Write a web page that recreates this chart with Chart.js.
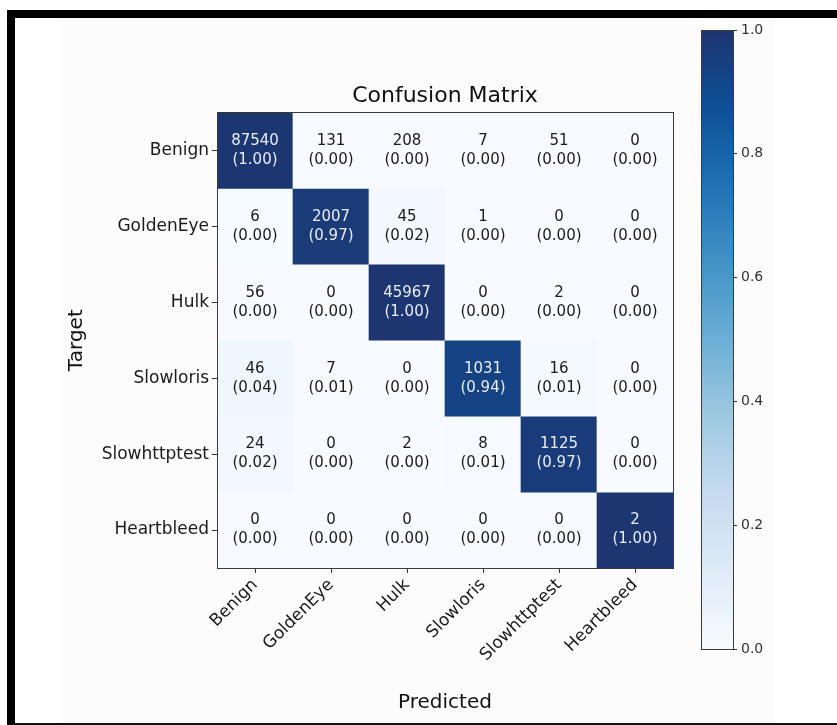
<!DOCTYPE html>
<html>
<head>
<meta charset="utf-8">
<script src="https://cdn.jsdelivr.net/npm/chart.js@4.4.1/dist/chart.umd.min.js"></script>
<style>
    body { margin: 0; width: 837px; height: 725px; overflow: hidden; background: #fff; position: relative; }
    .frame { position: absolute; left: 7px; top: 10px; width: 840px; height: 705px;
             border-top: 8px solid #000; border-left: 8px solid #000; border-bottom: 2px solid #111; }
    .paper { position: absolute; left: 60px; top: 18px; width: 715px; height: 705px; background: #fcfcfc; }
    canvas { position: absolute; top: 0; }
    #cm { left: 0; }
    #cbar { left: 690px; }
</style>
</head>
<body>
<div class="frame"></div>
<div class="paper"></div>
<canvas id="cm" width="837" height="725"></canvas>
<canvas id="cbar" width="110" height="725"></canvas>
<script>
// classes (predicted on x, target on y)
const classes = ['Benign', 'GoldenEye', 'Hulk', 'Slowloris', 'Slowhttptest', 'Heartbleed'];

// one row of counts per target class
const benignRow = [87540, 131, 208, 7, 51, 0];
const goldenEyeRow = [6, 2007, 45, 1, 0, 0];
const hulkRow = [56, 0, 45967, 0, 2, 0];
const slowlorisRow = [46, 7, 0, 1031, 16, 0];
const slowhttptestRow = [24, 0, 2, 8, 1125, 0];
const heartbleedRow = [0, 0, 0, 0, 0, 2];

const colorbarTicks = [0, 0.2, 0.4, 0.6, 0.8, 1.0];

const rows = [benignRow, goldenEyeRow, hulkRow, slowlorisRow, slowhttptestRow, heartbleedRow];
const normRows = rows.map(r => {
    const s = r.reduce((a, b) => a + b, 0);
    return r.map(v => s ? v / s : 0);
});

// matplotlib "Blues"
const blues = ['#f7fbff', '#deebf7', '#c6dbef', '#9ecae1', '#6baed6', '#4292c6', '#2171b5', '#0d4f96', '#1d3570'];

function hexToRgb(h) {
    return [parseInt(h.slice(1, 3), 16), parseInt(h.slice(3, 5), 16), parseInt(h.slice(5, 7), 16)];
}
function bluesColor(t) {
    t = Math.max(0, Math.min(1, t));
    const pos = t * (blues.length - 1);
    const i = Math.min(Math.floor(pos), blues.length - 2);
    const f = pos - i;
    const a = hexToRgb(blues[i]), b = hexToRgb(blues[i + 1]);
    const c = a.map((v, k) => Math.round(v + (b[k] - v) * f));
    return `rgb(${c[0]},${c[1]},${c[2]})`;
}

const FONT = "'DejaVu Sans', sans-serif";

const frameBox = {
    id: 'frameBox',
    afterDatasetsDraw(chart) {
        const { ctx, chartArea: a } = chart;
        ctx.save();
        ctx.strokeStyle = '#3a3a3a';
        ctx.lineWidth = 1;
        ctx.strokeRect(Math.round(a.left) + 0.5, Math.round(a.top) + 0.5,
            Math.round(a.right - a.left), Math.round(a.bottom - a.top));
        ctx.restore();
    }
};

const cellText = {
    id: 'cellText',
    afterDatasetsDraw(chart) {
        const ctx = chart.ctx;
        ctx.save();
        ctx.font = '15px ' + FONT;
        ctx.textAlign = 'center';
        ctx.textBaseline = 'middle';
        rows.forEach((row, r) => {
            const meta = chart.getDatasetMeta(r);
            meta.data.forEach((el, c) => {
                const p = el.getCenterPoint();
                const n = normRows[r][c];
                ctx.fillStyle = n > 0.5 ? '#e8edf5' : '#1a1a1a';
                ctx.fillText(String(row[c]), p.x, p.y - 9.5);
                ctx.fillText('(' + n.toFixed(2) + ')', p.x, p.y + 9.5);
            });
        });
        ctx.restore();
    }
};

new Chart(document.getElementById('cm'), {
    type: 'bar',
    data: {
        labels: classes,
        datasets: rows.map((row, r) => ({
            label: classes[r],
            data: row.map(() => 1),
            yAxisID: 'y',
            backgroundColor: normRows[r].map(bluesColor),
            borderWidth: 0,
            barPercentage: 1,
            categoryPercentage: 1
        }))
    },
    options: {
        responsive: false,
        animation: false,
        events: [],
        layout: { padding: { top: 83, left: 60, right: 164, bottom: 10 } },
        plugins: {
            legend: { display: false },
            tooltip: { enabled: false },
            title: {
                display: true,
                text: 'Confusion Matrix',
                fullSize: false,
                color: '#111',
                font: { family: FONT, size: 22, weight: 'normal' },
                padding: { top: 0, bottom: 3 }
            }
        },
        scales: {
            x: {
                stacked: true,
                grid: { offset: false, drawOnChartArea: false, drawTicks: true, tickLength: 5, color: '#333' },
                border: { display: false },
                ticks: {
                    minRotation: 45, maxRotation: 45, padding: 2, color: '#1a1a1a',
                    font: { family: FONT, size: 17 }
                },
                title: {
                    display: true, text: 'Predicted', color: '#111',
                    font: { family: FONT, size: 20 }, padding: { top: 0, bottom: 0 }
                },
                afterFit(scale) { scale.height = 147; }
            },
            y: {
                display: false,
                stacked: true,
                reverse: true,
                min: 0,
                max: classes.length
            },
            yl: {
                axis: 'y',
                type: 'category',
                position: 'left',
                labels: classes,
                offset: true,
                grid: { offset: false, drawOnChartArea: false, drawTicks: true, tickLength: 5, color: '#333' },
                border: { display: false },
                ticks: { padding: 3, color: '#1a1a1a', font: { family: FONT, size: 17 } },
                title: {
                    display: true, text: 'Target', color: '#111',
                    font: { family: FONT, size: 20 }, padding: { top: 5, bottom: 0 }
                },
                afterFit(scale) { scale.width = 157; }
            }
        }
    },
    plugins: [frameBox, cellText]
});

// colorbar
new Chart(document.getElementById('cbar'), {
    type: 'bar',
    data: {
        labels: [''],
        datasets: [{
            data: [colorbarTicks[colorbarTicks.length - 1]],
            borderWidth: 0,
            barPercentage: 1,
            categoryPercentage: 1,
            backgroundColor(ctx) {
                const area = ctx.chart.chartArea;
                if (!area) return blues[0];
                const g = ctx.chart.ctx.createLinearGradient(0, area.bottom, 0, area.top);
                for (let i = 0; i <= 40; i++) g.addColorStop(i / 40, bluesColor(i / 40));
                return g;
            }
        }]
    },
    options: {
        responsive: false,
        animation: false,
        events: [],
        layout: { padding: { top: 30, left: 11, right: 0, bottom: 76 } },
        plugins: { legend: { display: false }, tooltip: { enabled: false } },
        scales: {
            x: { display: false, offset: true },
            y: {
                position: 'right',
                min: colorbarTicks[0],
                max: colorbarTicks[colorbarTicks.length - 1],
                afterBuildTicks(scale) { scale.ticks = colorbarTicks.map(v => ({ value: v })); },
                grid: { drawOnChartArea: false, drawTicks: true, tickLength: 4, color: '#333' },
                border: { display: false },
                ticks: {
                    padding: 4, color: '#333', font: { family: FONT, size: 14 },
                    callback: v => Number(v).toFixed(1)
                },
                afterFit(scale) { scale.width = 67; }
            }
        }
    },
    plugins: [frameBox]
});
</script>
</body>
</html>
